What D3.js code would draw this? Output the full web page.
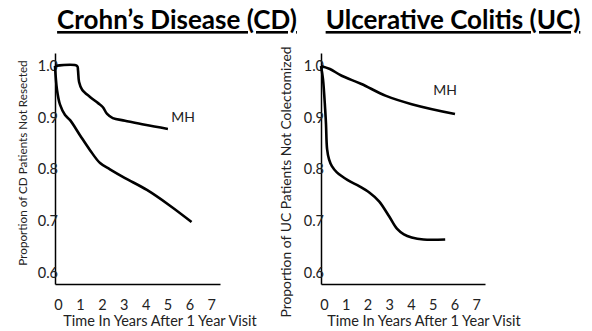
<!DOCTYPE html>
<html>
<head>
<meta charset="utf-8">
<script src="https://cdn.jsdelivr.net/npm/d3@7"></script>
<style>
  body { margin: 0; background: #fff; }
  text { font-family: Lato, "Open Sans", sans-serif; fill: #222; }
</style>
</head>
<body>
<div id="chart"></div>
<script>
//---- size of the whole picture ----//
var width = 592
var height = 331

//---- data (years after 1 year visit, proportion) ----//
var xTicks = [0, 1, 2, 3, 4, 5, 6, 7]
var yTicks = [0.6, 0.7, 0.8, 0.9, 1.0]

var cdYears   = [-0.14, -0.05, 0.09, 0.32, 0.55, 1.0, 1.46, 1.92, 2.37, 3.06, 4.06, 5.1, 6.1]
var cdValues  = [1.0, 0.954, 0.925, 0.905, 0.895, 0.866, 0.837, 0.812, 0.8, 0.783, 0.76, 0.73, 0.698]
var cdMhYears  = [-0.14, 0.87, 0.91, 0.96, 1.1, 1.46, 1.83, 2.05, 2.24, 2.5, 3.06, 3.97, 5.02]
var cdMhValues = [1.0, 1.0, 0.992, 0.969, 0.954, 0.94, 0.928, 0.92, 0.907, 0.899, 0.894, 0.886, 0.878]

var ucYears   = [-0.14, -0.05, 0.05, 0.09, 0.14, 0.23, 0.36, 0.59, 1.09, 1.63, 2.08, 2.53, 2.99, 3.35, 3.67, 4.03, 4.57, 5.57]
var ucValues  = [1.0, 0.975, 0.917, 0.887, 0.839, 0.819, 0.806, 0.794, 0.779, 0.767, 0.755, 0.738, 0.709, 0.685, 0.674, 0.668, 0.664, 0.664]
var ucMhYears  = [-0.14, 0.27, 0.81, 1.72, 2.85, 4.03, 6.02]
var ucMhValues = [1.0, 0.994, 0.981, 0.965, 0.942, 0.926, 0.907]

var panels = [
  {title: 'Crohn\u2019s Disease (CD)', titleX: 177,
   ylabel: 'Proportion of CD Patients Not Resected', ylabelX: 27, ylabelY: 163, ylabelSize: 11.7,
   xlabelX: 160,
   left: 55, right: 220,
   lines: [[cdYears, cdValues], [cdMhYears, cdMhValues]], mh: [183, 122]},
  {title: 'Ulcerative Colitis (UC)', titleX: 453,
   ylabel: 'Proportion of UC Patients Not Colectomized', ylabelX: 291, ylabelY: 182, ylabelSize: 13.9,
   xlabelX: 424,
   left: 321, right: 485,
   lines: [[ucYears, ucValues], [ucMhYears, ucMhValues]], mh: [445, 95]}
]

var svg = d3.select('#chart').append('svg')
            .attr('width', width)
            .attr('height', height)

var plotTop = 53, plotBottom = 284

panels.forEach(function(p){
  var x = d3.scaleLinear().domain([-0.14, 7.4]).range([p.left, p.right])
  var y = d3.scaleLinear().domain([0.578, 1.025]).range([plotBottom, plotTop])

  //---- title, bold + underlined ----//
  svg.append('text')
     .attr('x', p.titleX).attr('y', 29)
     .attr('text-anchor', 'middle')
     .style('font-size', '26px')
     .style('font-weight', 'bold')
     .style('fill', '#000')
     .style('text-decoration', 'underline')
     .text(p.title)

  //---- axes ----//
  var gx = svg.append('g')
     .attr('transform', 'translate(0,' + plotBottom + ')')
     .call(d3.axisBottom(x).tickValues(xTicks).tickSize(0).tickPadding(16).tickFormat(d3.format('d')))
  var gy = svg.append('g')
     .attr('transform', 'translate(' + p.left + ',0)')
     .call(d3.axisLeft(y).tickValues(yTicks).tickSize(0).tickPadding(-3).tickFormat(d3.format('.1f')))

  svg.selectAll('.domain').attr('stroke', '#000').attr('stroke-width', 1.5)
  gx.selectAll('text').style('font-size', '14.5px').style('font-family', 'Lato, sans-serif').attr('fill', '#222')
  gy.selectAll('text').style('font-size', '14.5px').style('font-family', 'Lato, sans-serif').attr('fill', '#222')

  //---- axis titles ----//
  svg.append('text')
     .attr('x', p.xlabelX).attr('y', 326)
     .attr('text-anchor', 'middle')
     .style('font-size', '14.5px')
     .text('Time In Years After 1 Year Visit')

  svg.append('text')
     .attr('transform', 'translate(' + p.ylabelX + ',' + p.ylabelY + ') rotate(-90)')
     .attr('text-anchor', 'middle')
     .style('font-size', p.ylabelSize + 'px')
     .text(p.ylabel)

  //---- survival curves ----//
  var line = d3.line()
     .x(function(d){ return x(d[0]) })
     .y(function(d){ return y(d[1]) })
     .curve(d3.curveCatmullRom.alpha(0.5))

  p.lines.forEach(function(s){
    var pts = s[0].map(function(t, i){ return [t, s[1][i]] })
    svg.append('path')
       .datum(pts)
       .attr('d', line)
       .attr('fill', 'none')
       .attr('stroke', '#000')
       .attr('stroke-width', 2.6)
  })

  svg.append('text')
     .attr('x', p.mh[0]).attr('y', p.mh[1])
     .attr('text-anchor', 'middle')
     .style('font-size', '14px')
     .text('MH')
})
</script>
</body>
</html>
